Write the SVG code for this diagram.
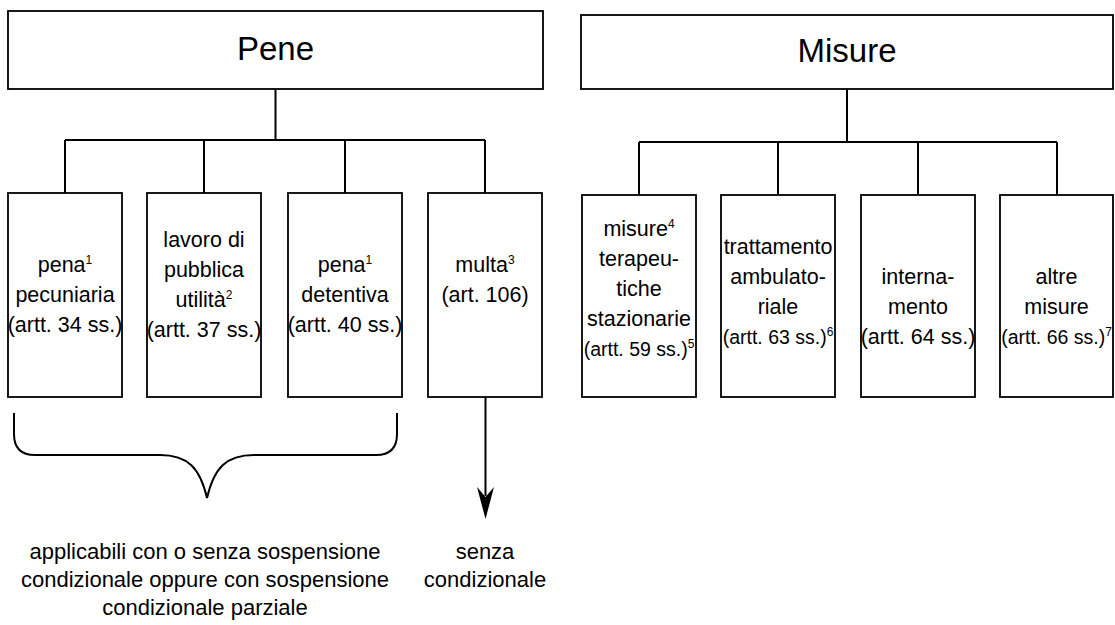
<svg xmlns="http://www.w3.org/2000/svg" width="1115" height="625" viewBox="0 0 1115 625">
<defs>
<style>
.box{fill:#fff;stroke:#000;stroke-width:1.8}
.ln{fill:none;stroke:#000;stroke-width:2}
.t{font-family:"Liberation Sans",Arial,sans-serif;font-size:21.5px;fill:#000;text-anchor:middle}
.n{font-size:19.5px}
.b{font-size:22px}
.h{font-family:"Liberation Sans",Arial,sans-serif;font-size:33px;fill:#000;text-anchor:middle}
.s{font-size:12px}
</style>
</defs>
<rect width="1115" height="625" fill="#fff"/>
<g id="connectors">
<path class="ln" d="M275.5,89 V140 M65,140 H485 M65,140 V193 M204,140 V193 M345,140 V193 M485,140 V193"/>
<path class="ln" d="M847,89 V142 M639,142 H1057 M639,142 V195 M778,142 V195 M918,142 V195 M1057,142 V195"/>
<path class="ln" d="M485.5,397 V496"/>
<path d="M477,487 L485.5,497 L494,487 L485.5,519 Z" fill="#000"/>
<path class="ln" d="M14,413 V434 Q14,455 35,455 H160 C188,455 200,468 207,498 C214,468 226,455 254,455 H376 Q397,455 397,434 V413"/>
</g>
<g id="pene">
<rect class="box" x="8" y="11" width="535" height="78"/>
<text class="h" x="275.5" y="60">Pene</text>
</g>
<g id="misure">
<rect class="box" x="581" y="15" width="532" height="74"/>
<text class="h" x="847" y="62">Misure</text>
</g>
<g id="pena-pecuniaria">
<rect class="box" x="8" y="193" width="114" height="204"/>
<text class="t" x="65" y="272">pena<tspan class="s" dy="-8">1</tspan></text>
<text class="t" x="65" y="302">pecuniaria</text>
<text class="t" x="65" y="332">(artt. 34 ss.)</text>
</g>
<g id="lavoro">
<rect class="box" x="147" y="193" width="114" height="204"/>
<text class="t" x="204" y="247">lavoro di</text>
<text class="t" x="204" y="277">pubblica</text>
<text class="t" x="204" y="307">utilità<tspan class="s" dy="-8">2</tspan></text>
<text class="t" x="204" y="337">(artt. 37 ss.)</text>
</g>
<g id="pena-detentiva">
<rect class="box" x="288" y="193" width="114" height="204"/>
<text class="t" x="345" y="272">pena<tspan class="s" dy="-8">1</tspan></text>
<text class="t" x="345" y="302">detentiva</text>
<text class="t" x="345" y="332">(artt. 40 ss.)</text>
</g>
<g id="multa">
<rect class="box" x="428" y="193" width="114" height="204"/>
<text class="t" x="485" y="272">multa<tspan class="s" dy="-8">3</tspan></text>
<text class="t" x="485" y="302">(art. 106)</text>
</g>
<g id="misure-terapeutiche">
<rect class="box" x="582" y="195" width="114" height="202"/>
<text class="t" x="639" y="236">misure<tspan class="s" dy="-8">4</tspan></text>
<text class="t" x="639" y="266">terapeu-</text>
<text class="t" x="639" y="296">tiche</text>
<text class="t" x="639" y="326">stazionarie</text>
<text class="t n" x="639" y="356">(artt. 59 ss.)<tspan class="s" dy="-8">5</tspan></text>
</g>
<g id="trattamento">
<rect class="box" x="721" y="195" width="114" height="202"/>
<text class="t" x="778" y="254">trattamento</text>
<text class="t" x="778" y="284">ambulato-</text>
<text class="t" x="778" y="314">riale</text>
<text class="t n" x="778" y="344">(artt. 63 ss.)<tspan class="s" dy="-8">6</tspan></text>
</g>
<g id="internamento">
<rect class="box" x="861" y="195" width="114" height="202"/>
<text class="t" x="918" y="284">interna-</text>
<text class="t" x="918" y="314">mento</text>
<text class="t" x="918" y="344">(artt. 64 ss.)</text>
</g>
<g id="altre-misure">
<rect class="box" x="1000" y="195" width="113" height="202"/>
<text class="t" x="1056.5" y="284">altre</text>
<text class="t" x="1056.5" y="314">misure</text>
<text class="t n" x="1056.5" y="344">(artt. 66 ss.)<tspan class="s" dy="-8">7</tspan></text>
</g>
<g id="label-applicabili">
<text class="t b" x="205" y="559">applicabili con o senza sospensione</text>
<text class="t b" x="205" y="587">condizionale oppure con sospensione</text>
<text class="t b" x="205" y="615">condizionale parziale</text>
</g>
<g id="label-senza">
<text class="t b" x="485" y="559">senza</text>
<text class="t b" x="485" y="587">condizionale</text>
</g>
</svg>
